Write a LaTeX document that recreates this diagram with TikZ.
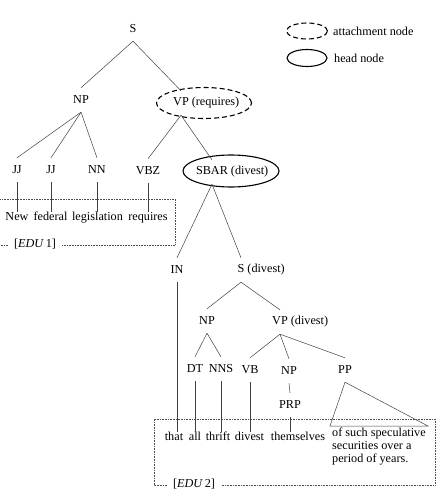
\documentclass[tikz,border=0pt]{standalone}
\usepackage{fontspec}
\setmainfont{Liberation Serif}
\begin{document}
\begin{tikzpicture}[x=1pt,y=-1pt,font=\fontsize{12.2}{13}\selectfont,
  kat/.style={inner sep=0pt,minimum height=24pt},
  wort/.style={inner sep=1pt,text height=8pt,text depth=2.5pt},
  ast/.style={draw=black!75,line width=0.5pt},
  rand/.style={draw=black!70,line width=0.6pt,densely dotted},
  kopf/.style={draw,line width=1.1pt},
  anbind/.style={draw,line width=1.1pt,dash pattern=on 5pt off 3pt}]
\useasboundingbox (0,0) rectangle (439,500);
%
% --- Legende ---
\draw[anbind] (307,31) ellipse (20.5pt and 8pt);
\node[anchor=west,inner sep=0pt] (leganb) at (333,31) {attachment node};
\draw[kopf] (307,58) ellipse (20pt and 8.5pt);
\node[anchor=west,inner sep=0pt] (legkopf) at (334,58) {head node};
%
% --- Baum: EDU 1 ---
\node[kat] (s) at (133,29) {S};
\node[kat] (np) at (81,100) {NP};
\node[kat] (vpr) at (181,103) {VP\rlap{\ (requires)}};
\draw[anbind] (204,103) ellipse (47.5pt and 15.5pt);
\node[kat] (jj1) at (17,170) {JJ};
\node[kat] (jj2) at (51,170) {JJ};
\node[kat] (nn) at (97,170) {NN};
\node[kat] (vbz) at (148,171) {VBZ};
\node[kat] (sbar) at (212,172) {SBAR\rlap{\ (divest)}};
\draw[kopf] (231,171) ellipse (48pt and 16pt);
% Blaetter
\node[wort] (new) at (17,218) {New};
\node[wort] (federal) at (50.5,218) {federal};
\node[wort] (legislation) at (97.5,218) {legislation};
\node[wort] (requires) at (148,218) {requires};
%
% --- Baum: EDU 2 ---
\node[kat] (in) at (177,270) {IN};
\node[kat] (sdiv) at (241,270) {S\rlap{\ (divest)}};
\node[kat] (np2) at (207,321) {NP};
\node[kat] (vpd) at (280,322) {VP\rlap{\ (divest)}};
\node[kat] (dt) at (195,369) {DT};
\node[kat] (nns) at (221,369) {NNS};
\node[kat] (vb) at (250,370) {VB};
\node[kat] (np3) at (289,371) {NP};
\node[kat] (pp) at (345,370) {PP};
\node[kat] (prp) at (290,405) {PRP};
% Blaetter
\node[wort] (that) at (174,438) {that};
\node[wort] (all) at (195,438) {all};
\node[wort] (thrift) at (218,438) {thrift};
\node[wort] (divest) at (249.5,438) {divest};
\node[wort] (themselves) at (298,438) {themselves};
\node[anchor=north west,align=left,inner sep=2pt] (pptext) at (330,426)
  {of such speculative\\securities over a\\period of years.};
%
% --- Kanten ---
\draw[ast] (s.south) -- (np.north);
\draw[ast] (s.south) -- (vpr.north);
\foreach \k in {jj1,jj2,nn}
  \draw[ast] (np.south) -- (\k.north);
\draw[ast] (vpr.south) -- (vbz.north);
\draw[ast] (vpr.south) -- (sbar.north);
\draw[ast] (sbar.south) -- (in.north);
\draw[ast] (sbar.south) -- (sdiv.north);
\draw[ast] (sdiv.south) -- (np2.north);
\draw[ast] (sdiv.south) -- (vpd.north);
\draw[ast] (np2.south) -- (dt.north);
\draw[ast] (np2.south) -- (nns.north);
\foreach \k in {vb,np3,pp}
  \draw[ast] (vpd.south) -- (\k.north);
\draw[ast] (np3.south) -- (prp.north);
% senkrechte Striche zu den Woertern
\foreach \p/\w in {jj1/new,jj2/federal,nn/legislation,vbz/requires,
    in/that,dt/all,nns/thrift,vb/divest,prp/themselves}
  \draw[ast] (\p.south) -- (\p.south |- \w.north);
% Dreieck fuer PP
\draw[ast] (pp.south) -- (pptext.north west) -- (pptext.north east) -- cycle;
%
% --- EDU-Rahmen ---
\node[wort,inner xsep=6pt] (edu1) at (35,245) {[\textit{EDU}\,1]};
\draw[rand] (edu1.west) -- (0,245);
\draw[rand] (edu1.east) -| (175,199) -- (0,199);
\node[wort,inner xsep=6pt] (edu2) at (194,485) {[\textit{EDU}\,2]};
\draw[rand] (edu2.west) -| (154,419) -| (435,485) -- (edu2.east);
\end{tikzpicture}
\end{document}
